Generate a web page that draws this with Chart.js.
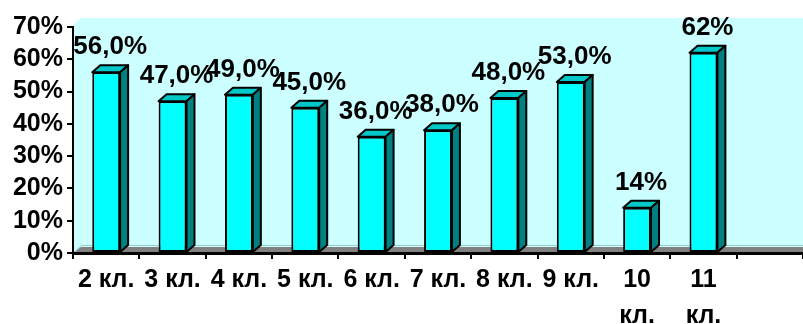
<!DOCTYPE html>
<html lang="ru">
<head>
    <meta charset="UTF-8">
    <title>Результаты по классам</title>
    <style>
        body {
            margin: 0;
            padding: 0;
            background-color: #ffffff;
        }
        #wrap {
            width: 803px;
            height: 324px;
        }
    </style>
</head>
<body>
    <div id="wrap">
        <canvas id="chart" width="803" height="324"></canvas>
    </div>

    <script src="https://cdn.jsdelivr.net/npm/chart.js"></script>
    <script>
        // данные с картинки
        const categories = ['2 кл.', '3 кл.', '4 кл.', '5 кл.', '6 кл.', '7 кл.', '8 кл.', '9 кл.', ['10', 'кл.'], ['11', 'кл.'], ''];
        const values = [56, 47, 49, 45, 36, 38, 48, 53, 14, 62, null];
        const valueLabels = ['56,0%', '47,0%', '49,0%', '45,0%', '36,0%', '38,0%', '48,0%', '53,0%', '14%', '62%', ''];
        const yMax = 70;
        const yStep = 10;

        // глубина "объёма"
        const DX = 8, DY = 7;
        const FONT = '"Liberation Sans", Arial, sans-serif';

        function poly(ctx, pts, fill) {
            ctx.beginPath();
            ctx.moveTo(pts[0][0], pts[0][1]);
            for (let i = 1; i < pts.length; i++) ctx.lineTo(pts[i][0], pts[i][1]);
            ctx.closePath();
            ctx.fillStyle = fill;
            ctx.fill();
            ctx.stroke();
        }

        const backdrop = {
            id: 'backdrop',
            beforeDraw(chart) {
                const { ctx, chartArea: a } = chart;
                const wallTop = a.top - 9;
                ctx.save();
                // задняя стенка
                ctx.fillStyle = '#ccffff';
                ctx.beginPath();
                ctx.moveTo(a.left, a.bottom);
                ctx.lineTo(a.left, wallTop + DY);
                ctx.lineTo(a.left + DX, wallTop);
                ctx.lineTo(a.right, wallTop);
                ctx.lineTo(a.right, a.bottom);
                ctx.closePath();
                ctx.fill();
                // пол
                ctx.fillStyle = '#808080';
                ctx.beginPath();
                ctx.moveTo(a.left, a.bottom);
                ctx.lineTo(a.left + DX, a.bottom - DY + 1);
                ctx.lineTo(a.right, a.bottom - DY + 1);
                ctx.lineTo(a.right, a.bottom);
                ctx.closePath();
                ctx.fill();
                ctx.strokeStyle = '#99cccc';
                ctx.lineWidth = 1;
                ctx.beginPath();
                ctx.moveTo(a.left + DX, a.bottom - DY - 0.5);
                ctx.lineTo(a.right, a.bottom - DY - 0.5);
                ctx.moveTo(a.left + 0.5, a.bottom);
                ctx.lineTo(a.left + DX, a.bottom - DY);
                ctx.stroke();
                ctx.restore();
            }
        };

        const bars3d = {
            id: 'bars3d',
            afterDatasetsDraw(chart) {
                const ctx = chart.ctx;
                const meta = chart.getDatasetMeta(0);
                ctx.save();
                ctx.lineWidth = 2;
                ctx.strokeStyle = '#000000';
                ctx.lineJoin = 'round';
                meta.data.forEach((bar, i) => {
                    if (values[i] == null) return;
                    const { x, y, base, width } = bar.getProps(['x', 'y', 'base', 'width'], true);
                    const l = x - width / 2, r = x + width / 2;
                    poly(ctx, [[l, y], [l + DX, y - DY], [r + DX, y - DY], [r, y]], '#00c8c8');
                    poly(ctx, [[r, y], [r + DX, y - DY], [r + DX, base - DY], [r, base]], '#008080');
                });
                // подписи значений
                ctx.fillStyle = '#000000';
                ctx.font = 'bold 26px ' + FONT;
                ctx.textAlign = 'center';
                ctx.textBaseline = 'middle';
                meta.data.forEach((bar, i) => {
                    if (values[i] == null) return;
                    const { x, y } = bar.getProps(['x', 'y'], true);
                    ctx.fillText(valueLabels[i], x + DX / 2, y - DY - 18);
                });
                ctx.restore();
            }
        };

        new Chart(document.getElementById('chart'), {
            type: 'bar',
            data: {
                labels: categories,
                datasets: [{
                    data: values,
                    backgroundColor: '#00ffff',
                    borderColor: '#000000',
                    borderWidth: 2,
                    borderSkipped: false,
                    barPercentage: 0.42,
                    categoryPercentage: 1
                }]
            },
            options: {
                responsive: false,
                animation: false,
                layout: { padding: { top: 27, left: 0, right: 0, bottom: 0 } },
                plugins: {
                    legend: { display: false },
                    tooltip: { enabled: false }
                },
                scales: {
                    x: {
                        offset: true,
                        grid: {
                            offset: true,
                            drawOnChartArea: false,
                            drawTicks: true,
                            tickLength: 6,
                            color: '#000000',
                            lineWidth: 2
                        },
                        border: { display: true, color: '#000000', width: 3 },
                        ticks: {
                            color: '#000000',
                            padding: 3,
                            autoSkip: false,
                            maxRotation: 0,
                            font: { family: FONT, size: 25, weight: 'bold', lineHeight: 1.45 }
                        },
                        afterFit(scale) { scale.height = 71; }
                    },
                    y: {
                        min: 0,
                        max: yMax,
                        ticks: {
                            stepSize: yStep,
                            autoSkip: false,
                            color: '#000000',
                            padding: 4,
                            font: { family: FONT, size: 25, weight: 'bold' },
                            callback: v => v + '%'
                        },
                        grid: {
                            drawOnChartArea: false,
                            drawTicks: true,
                            tickLength: 6,
                            color: '#000000',
                            lineWidth: 2
                        },
                        border: { display: true, color: '#000000', width: 2 },
                        afterFit(scale) { scale.width = 73; }
                    }
                }
            },
            plugins: [backdrop, bars3d]
        });
    </script>
</body>
</html>
